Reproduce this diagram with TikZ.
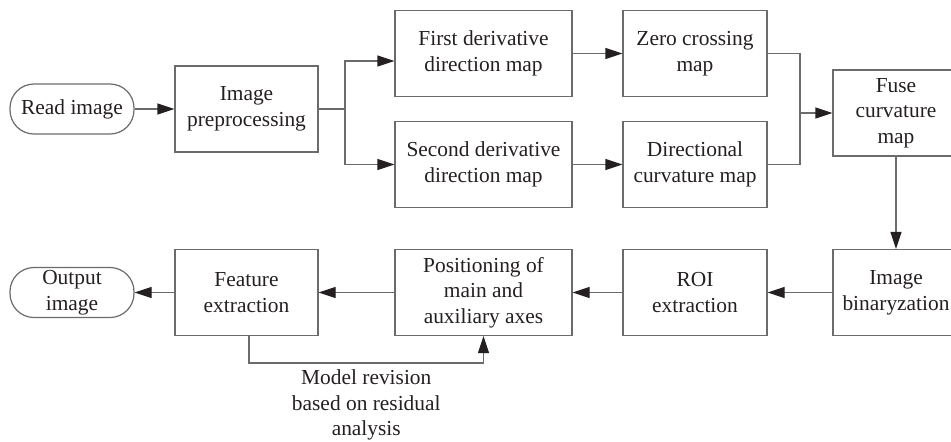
\documentclass[tikz,border=0pt]{standalone}
\usepackage{fontspec}
\setmainfont{Liberation Serif}
\usetikzlibrary{arrows.meta, shapes, calc}
\definecolor{mygray}{rgb}{0.42,0.42,0.42}
\definecolor{mydark}{rgb}{0.14,0.12,0.13}

\begin{document}
\begin{tikzpicture}[x=0.5pt, y=-0.5pt]
\tikzset{BoxStyle/.style =
    {draw=mygray, line width=0.6pt, shape=rectangle, minimum height=43pt, inner sep=1pt,
     align=center, text=mydark, font=\fontsize{10.7pt}{12.8pt}\selectfont}
}
\tikzset{TermStyle/.style = {BoxStyle, minimum width=62pt, minimum height=25pt, inner sep=0pt, rounded corners=12pt}}
\tikzset{EdgeStyle/.style = {draw=mygray, line width=0.6pt, -{Triangle[length=8.5pt, width=5.5pt, color=mydark]}}}
\tikzset{LineStyle/.style = {draw=mygray, line width=0.6pt}}
\tikzset{LabelStyle/.style = {text=mydark, font=\fontsize{10.7pt}{12.8pt}\selectfont, below, align=center, inner sep=3pt}}
\useasboundingbox (0,0) rectangle (951,441);
% top row
\node[TermStyle] (P-read) at (72,109) {Read image};
\node[BoxStyle, minimum width=71.5pt] (P-prep) at (246.5,109) {Image\\preprocessing};
\node[BoxStyle, minimum width=88.5pt] (P-first) at (483.5,53.5) {First derivative\\direction map};
\node[BoxStyle, minimum width=88.5pt] (P-second) at (483.5,164.5) {Second derivative\\direction map};
\node[BoxStyle, minimum width=72pt] (P-zero) at (695,53.5) {Zero crossing\\map};
\node[BoxStyle, minimum width=72pt] (P-dcurv) at (695,164.5) {Directional\\curvature map};
\node[BoxStyle, minimum width=63pt] (P-fuse) at (896,113) {Fuse\\curvature\\map};
% bottom row
\node[BoxStyle, minimum width=63pt] (P-bin) at (896,292.5) {Image\\binaryzation};
\node[BoxStyle, minimum width=72pt] (P-roi) at (695,292.5) {ROI\\extraction};
\node[BoxStyle, minimum width=88.5pt] (P-pos) at (483.5,292.5) {Positioning of\\main and\\auxiliary axes};
\node[BoxStyle, minimum width=71.5pt] (P-feat) at (246.5,292.5) {Feature\\extraction};
\node[TermStyle] (P-out) at (72,292.5) {Output\\image};
\coordinate (P-split) at (345,109);
\coordinate (P-join) at (800,113);
\coordinate (P-fb) at (483.5,363);

\draw[EdgeStyle] (P-read) -- (P-prep);
\draw[LineStyle] (P-prep) -- (P-split);
\draw[EdgeStyle] (P-split) |- ([yshift=-3.75pt]P-first.west);
\draw[EdgeStyle] (P-split) |- (P-second.west);
\draw[EdgeStyle] (P-first) -- (P-zero);
\draw[EdgeStyle] (P-second) -- (P-dcurv);
\draw[LineStyle] (P-zero.east) -| (P-join);
\draw[LineStyle] (P-dcurv.east) -| (P-join);
\draw[EdgeStyle] (P-join) -- (P-fuse.west);
\draw[EdgeStyle] (P-fuse) -- (P-bin);
\foreach \from/\to in {bin/roi, roi/pos, pos/feat, feat/out}
    \draw[EdgeStyle] (P-\from) -- (P-\to);
\draw[EdgeStyle] ([xshift=1.25pt]P-feat.south) |- node[LabelStyle, pos=0.75]{Model revision\\based on residual\\analysis} (P-fb) -- (P-pos.south);
\end{tikzpicture}
\end{document}
